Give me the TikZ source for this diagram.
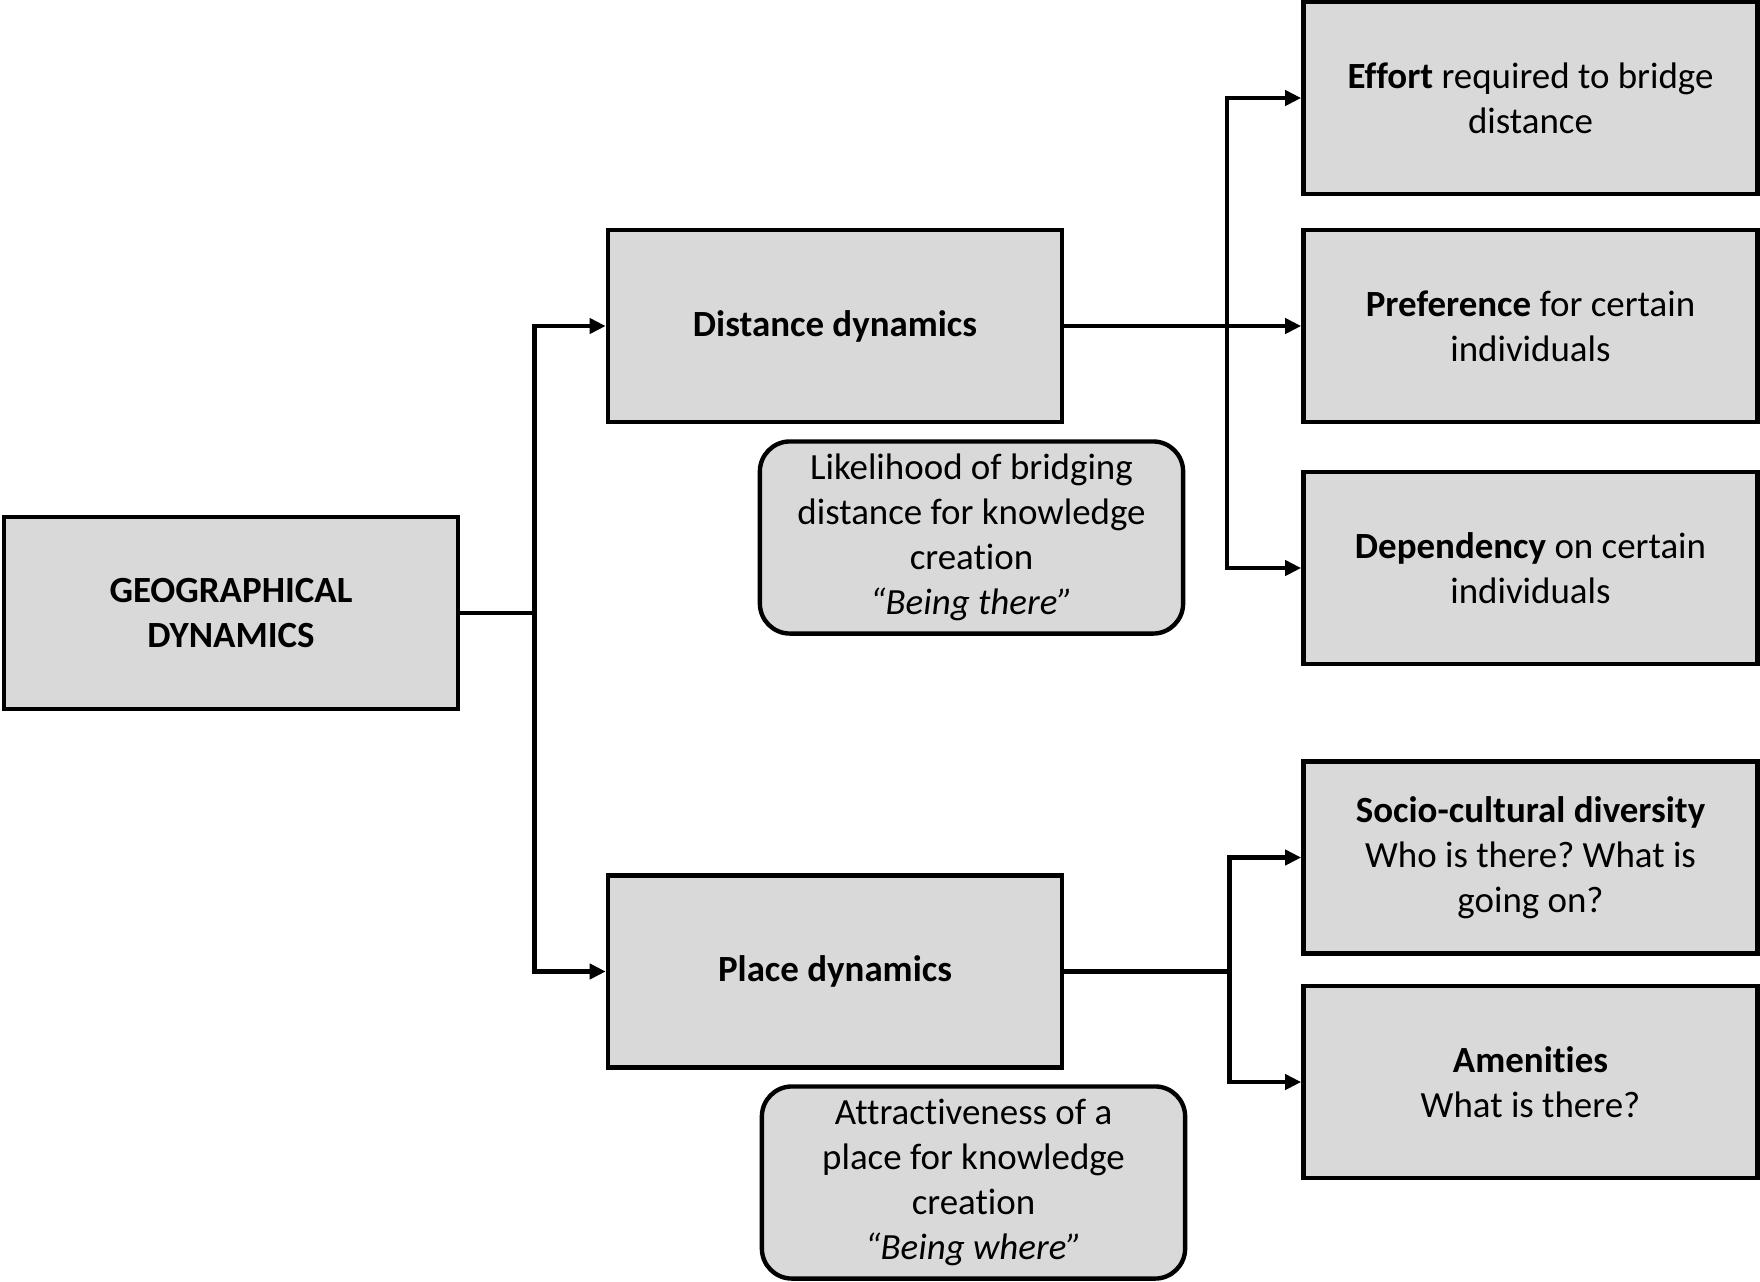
\documentclass[tikz,border=0pt]{standalone}
\usepackage{fontspec}
\setmainfont{Carlito}[Ligatures=NoCommon]
\usetikzlibrary{arrows.meta}
\frenchspacing
\begin{document}
\begin{tikzpicture}[x=0.01cm, y=-0.01cm, line width=1.25pt,
		every node/.style={font=\fontsize{10.5}{12.8}\selectfont, align=center, inner sep=0pt},
		box/.style={draw, fill=black!15, minimum width=4.54cm, minimum height=1.92cm},
		note/.style={draw, fill=black!15, rounded corners=0.3cm, minimum width=4.23cm, minimum height=1.92cm},
		arr/.style={-{Triangle[length=0.16cm, width=0.15cm]}}]
	\useasboundingbox (0,0) rectangle (1760,1281);
	
	% linke Seite
	\node[box] (geo) at (231,613) {\textbf{GEOGRAPHICAL}\\\textbf{DYNAMICS}};
	
	% mittlere Ebene
	\node[box] (dist) at (835,326) {\textbf{Distance dynamics}};
	\node[box] (place) at (835,971.5) {\textbf{Place dynamics}};
	\node[note] (likely) at (971.5,537.5) {Likelihood of bridging\\distance for knowledge\\creation\\\textit{“Being there”}};
	\node[note] (attract) at (973.5,1182.5) {Attractiveness of a\\place for knowledge\\creation\\\textit{“Being where”}};
	
	% rechte Seite
	\node[box] (effort) at (1530.5,98) {\textbf{Effort} required to bridge\\distance};
	\node[box] (pref) at (1530.5,326) {\textbf{Preference} for certain\\individuals};
	\node[box] (dep) at (1530.5,568) {\textbf{Dependency} on certain\\individuals};
	\node[box] (socio) at (1530.5,857.5) {\textbf{Socio-cultural diversity}\\Who is there? What is\\going on?};
	\node[box] (amen) at (1530.5,1082) {\textbf{Amenities}\\What is there?};
	
	% Verbindungen
	\draw (geo.east) -- ++(74,0) coordinate (j1);
	\draw[arr] (j1) |- (dist.west);
	\draw[arr] (j1) |- (place.west);
	
	\draw (dist.east) -- ++(162.6,0) coordinate (j2);
	\draw[arr] (j2) |- (effort.west);
	\draw[arr] (j2) -- (pref.west);
	\draw[arr] (j2) |- (dep.west);
	
	\draw (place.east) -- ++(165,0) coordinate (j3);
	\draw[arr] (j3) |- (socio.west);
	\draw[arr] (j3) |- (amen.west);
\end{tikzpicture}
\end{document}
